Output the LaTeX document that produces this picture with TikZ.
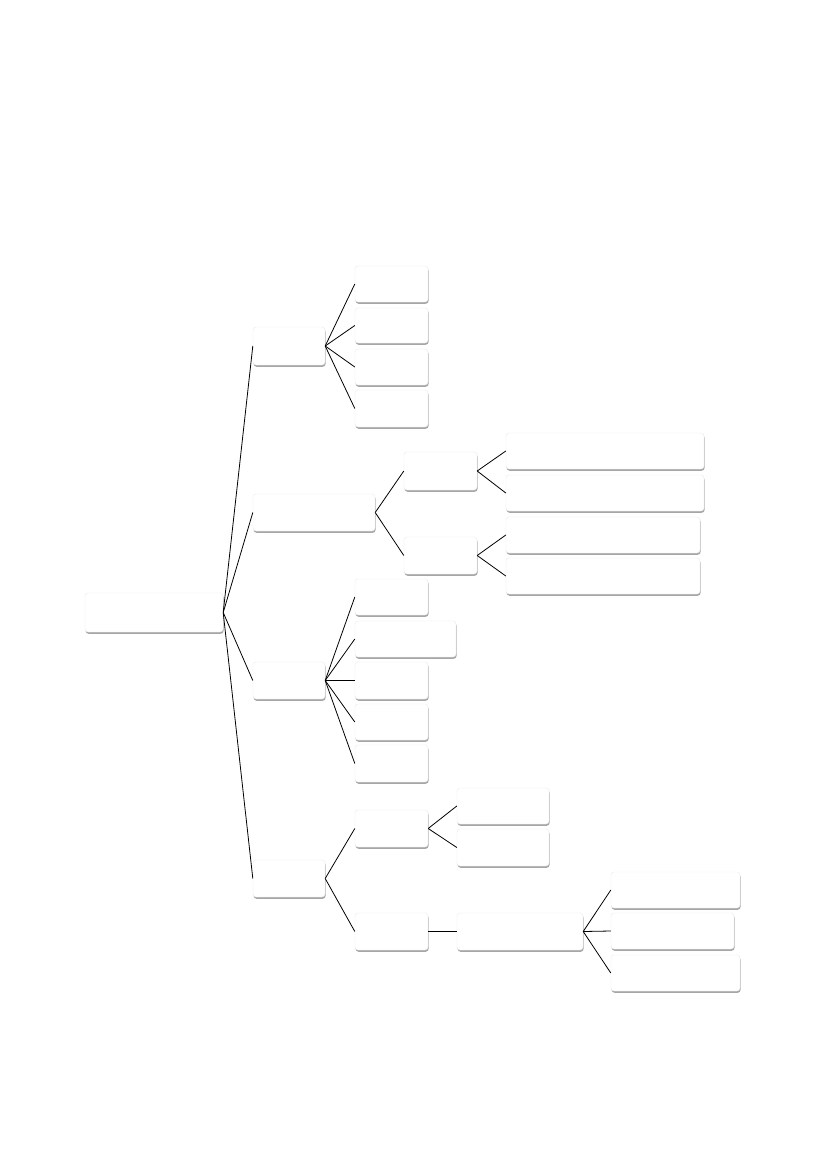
\documentclass[tikz,border=0pt]{standalone}
\usetikzlibrary{shadows}
\tikzset{
  box/.style={draw=black!8, line width=0.4pt, fill=white, rounded corners=3pt, inner sep=0pt,
    drop shadow={shadow xshift=0.6pt, shadow yshift=-1.8pt, fill=black, opacity=0.35}},
  link/.style={draw=black, line width=0.8pt}
}
\newcommand\bx[5]{\node[box, minimum width={#4pt-#2pt}, minimum height={#5pt-#3pt}] (#1) at ({(#2+#4)/2},{(#3+#5)/2}) {};}
\begin{document}
\begin{tikzpicture}[x=1pt,y=-1pt]
\useasboundingbox (0,0) rectangle (827,1169);
\fill[white] (0,0) rectangle (827,1169);
% root
\bx{root}{85}{593}{223}{632}
% level 1
\bx{A}{253}{327}{325}{365}
\bx{B}{253}{494}{375}{531}
\bx{C}{253}{662}{325}{699}
\bx{D}{253}{860}{325}{897}
% A children
\bx{a1}{355}{266}{428}{302}
\bx{a2}{355}{308}{428}{343}
\bx{a3}{355}{349}{428}{385}
\bx{a4}{355}{390}{428}{427}
% B children
\bx{b1}{404}{452}{477}{490}
\bx{b2}{404}{537}{477}{574}
\bx{b11}{506}{433}{704}{469}
\bx{b12}{506}{475}{704}{511}
\bx{b21}{506}{517}{700}{553}
\bx{b22}{506}{558}{700}{594}
% C children
\bx{c1}{355}{579}{428}{615}
\bx{c2}{355}{621}{456}{657}
\bx{c3}{355}{662}{428}{699}
\bx{c4}{355}{704}{428}{740}
\bx{c5}{355}{745}{428}{782}
% D children
\bx{d1}{355}{810}{428}{847}
\bx{d2}{355}{913}{428}{950}
\bx{d11}{457}{788}{549}{824}
\bx{d12}{457}{829}{549}{866}
\bx{e}{457}{913}{583}{950}
\bx{e1}{611}{872}{740}{908}
\bx{e2}{611}{913}{734}{949}
\bx{e3}{611}{955}{740}{991}
% connectors
\foreach \c in {A,B,C,D} \draw[link] (root.east) -- (\c.west);
\foreach \c in {a1,a2,a3,a4} \draw[link] (A.east) -- (\c.west);
\foreach \c in {b1,b2} \draw[link] (B.east) -- (\c.west);
\foreach \c in {b11,b12} \draw[link] (b1.east) -- (\c.west);
\foreach \c in {b21,b22} \draw[link] (b2.east) -- (\c.west);
\foreach \c in {c1,c2,c3,c4,c5} \draw[link] (C.east) -- (\c.west);
\foreach \c in {d1,d2} \draw[link] (D.east) -- (\c.west);
\foreach \c in {d11,d12} \draw[link] (d1.east) -- (\c.west);
\draw[link] (d2.east) -- (e.west);
\foreach \c in {e1,e2,e3} \draw[link] (e.east) -- (\c.west);
\end{tikzpicture}
\end{document}
